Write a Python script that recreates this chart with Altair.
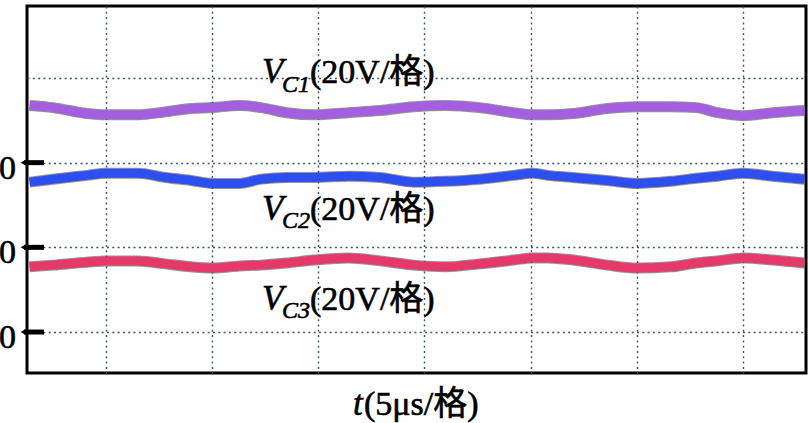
import altair as alt
import pandas as pd

# ---- data (time in us, capacitor voltages in V) ----
time_us = [-3.6, -2.5, -0.9, 0.0, 1.5, 2.8, 4.0, 5.0, 6.3, 7.3, 8.5, 9.8, 11.4, 12.9,
           14.5, 16.0, 17.6, 19.2, 20.1, 20.8, 22.0, 23.6, 25.0, 26.6, 27.8, 28.8,
           30.0, 31.4, 32.9]
vc1 = [13.5, 13.0, 11.6, 11.3, 11.3, 12.0, 12.8, 13.0, 13.5, 13.0, 11.8, 11.3, 11.8, 12.3,
       13.2, 13.5, 13.0, 11.8, 11.3, 11.3, 11.6, 12.8, 13.2, 13.2, 13.0, 11.8, 11.1, 11.8, 12.3]
vc2 = [15.4, 16.1, 17.0, 17.5, 17.5, 16.5, 15.8, 15.1, 15.1, 16.1, 16.5, 16.5, 16.8, 16.5,
       15.4, 15.6, 16.1, 17.0, 17.5, 17.0, 16.5, 15.8, 15.1, 15.6, 16.3, 16.8, 17.5, 16.8, 16.1]
vc3 = [15.4, 15.8, 16.5, 16.8, 16.8, 16.1, 15.4, 15.1, 15.6, 15.8, 16.3, 17.0, 17.5, 16.8,
       15.8, 15.4, 16.1, 17.0, 17.5, 17.5, 17.0, 15.8, 15.1, 15.4, 16.3, 16.8, 17.5, 17.0, 16.3]

channels = ["VC1", "VC2", "VC3"]
channel_subs = ["C1", "C2", "C3"]
zero_div = [2, 1, 0]          # screen division of each channel's zero marker
volts_per_div = 20
x_ticks_us = [0, 5, 10, 15, 20, 25, 30]
y_grid_div = [0, 1, 2, 3]
zero_label = "0"
scale_text = "(20V/格)"
x_title_var = "t"
x_title_rest = "(5μs/格)"
colors = ["#a45ee0", "#2d4ef0", "#e6396a"]

FONT = "Liberation Serif, Noto Sans CJK SC"

rows = []
for name, z, vals in zip(channels, zero_div, [vc1, vc2, vc3]):
    for t, v in zip(time_us, vals):
        rows.append({"t": t, "ch": name, "y": z + v / volts_per_div})
df = pd.DataFrame(rows)

xs = alt.Scale(domain=[-3.72, 32.97], nice=False, zero=False)
ys = alt.Scale(domain=[-0.484, 3.85], nice=False, zero=False)

grid = dict(grid=True, gridColor="#3f5560", gridDash=[2, 3.3], gridWidth=1.4, gridOpacity=1)
x_axis = alt.Axis(values=x_ticks_us, labels=False, ticks=False, domain=False, title=None, **grid)
y_axis = alt.Axis(values=y_grid_div, labels=False, ticks=False, domain=False, title=None, **grid)

X = alt.X("t:Q", scale=xs, axis=x_axis)
Y = alt.Y("y:Q", scale=ys, axis=y_axis)

outline = alt.Chart(df).mark_line(strokeWidth=11, color="#151515", opacity=0.45,
                                  interpolate="monotone", clip=True).encode(
    x=X, y=Y, detail="ch:N")
traces = alt.Chart(df).mark_line(strokeWidth=9, interpolate="monotone", clip=True).encode(
    x=X, y=Y,
    color=alt.Color("ch:N", scale=alt.Scale(domain=channels, range=colors), legend=None))

markers_df = pd.DataFrame({"y": zero_div, "lab": [zero_label] * len(zero_div)})
markers = alt.Chart(markers_df).mark_rule(strokeWidth=5, color="black").encode(
    y=Y, x=alt.value(-3), x2=alt.value(17))
tips = alt.Chart(markers_df).mark_point(shape="triangle-left", filled=True, size=28,
                                        color="black", opacity=1).encode(
    y=Y, x=alt.value(-4))
zero_text = alt.Chart(markers_df).mark_text(
    font=FONT, fontSize=34, align="left", baseline="alphabetic", dy=16,
    color="black", stroke="black", strokeWidth=0.6).encode(
    y=Y, x=alt.value(-28), text="lab:N")


def txt(s, x, y, size, italic=False):
    return alt.Chart(pd.DataFrame({"a": [0]})).mark_text(
        text=s, font=FONT, fontSize=size, fontStyle="italic" if italic else "normal",
        align="left", baseline="alphabetic", color="black",
        stroke="black", strokeWidth=0.6).encode(
        x=alt.value(x), y=alt.value(y))


label_rows = [(77, 86), (214, 222), (304, 312)]
texts = []
for sub, (yb, ys_) in zip(channel_subs, label_rows):
    texts.append(txt("V", 235, yb, 35, italic=True))
    texts.append(txt(sub, 255, ys_, 24, italic=True))
    texts.append(txt(scale_text, 283, yb, 34))
texts.append(txt(x_title_var, 326, 409, 35, italic=True))
texts.append(txt(x_title_rest, 337, 409, 34))

chart = alt.layer(outline, traces, markers, tips, zero_text, *texts).properties(
    width=779, height=367,
    padding={"left": 27, "top": 6, "right": 2, "bottom": 50},
    autosize=alt.AutoSizeParams(type="none"),
    background="white",
).configure_view(stroke="black", strokeWidth=3)

chart.save("out.html", embed_options={"renderer": "svg", "actions": False})
